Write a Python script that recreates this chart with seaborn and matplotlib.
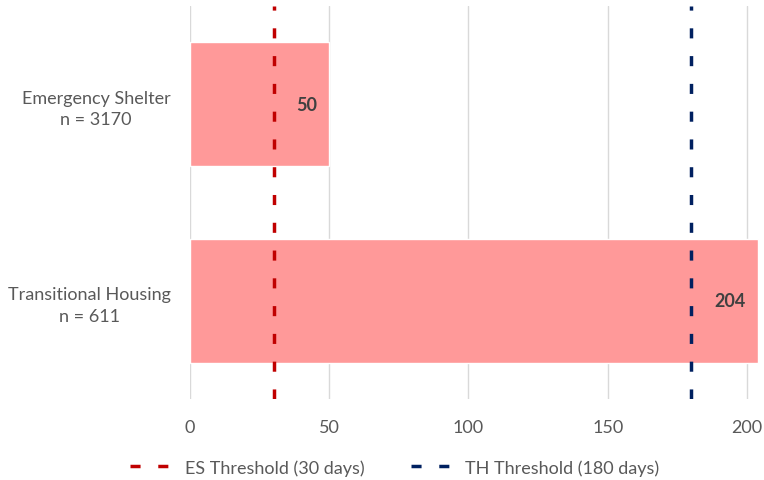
import pandas as pd
import matplotlib
matplotlib.use('Agg')
import matplotlib.pyplot as plt
import seaborn as sns

programs = ['Emergency Shelter\nn = 3170', 'Transitional Housing\nn = 611']
days = [50, 204]
thresholds = [30, 180]
threshold_labels = ['ES Threshold (30 days)', 'TH Threshold (180 days)']
threshold_colors = ['#C00000', '#002060']

df = pd.DataFrame({'program': programs, 'days': days})

sns.set_style('white')
plt.rcParams['font.family'] = ['Lato', 'DejaVu Sans']

fig = plt.figure(figsize=(7.64, 4.81), dpi=100)
ax = fig.add_axes([0.2487, 0.168, 0.7454, 0.818])
sns.barplot(data=df, x='days', y='program', orient='h', color='#FF9999',
            saturation=1, width=0.63, ax=ax)

ax.set_xlim(0, 204.5)
ax.set_ylim(1.5, -0.5)
ax.set_xticks([0, 50, 100, 150, 200])
ax.grid(axis='x', color='#D9D9D9', lw=1)
ax.set_axisbelow(True)
for s in ax.spines.values():
    s.set_visible(False)

handles = []
for t, lab, c in zip(thresholds, threshold_labels, threshold_colors):
    h = ax.axvline(t, color=c, lw=2.5, dashes=(2.9, 5.1), label=lab)
    handles.append(h)

#value labels inside the bar end
for i, v in enumerate(days):
    ax.text(v - 4.5, i, str(v), ha='right', va='center', fontsize=13,
            fontweight='bold', color='#404040')

ax.set_xlabel('')
ax.set_ylabel('')
ax.tick_params(axis='x', length=0, pad=14, labelsize=13, labelcolor='#595959')
ax.tick_params(axis='y', length=0, pad=14, labelsize=13, labelcolor='#595959')
for lab in ax.get_yticklabels():
    lab.set_multialignment('center')
    lab.set_linespacing(1.45)

fig.legend(handles=handles, loc='lower center', bbox_to_anchor=(0.517, -0.025),
           ncol=2, frameon=False, fontsize=13, labelcolor='#595959',
           handlelength=2.4, columnspacing=2.6, handletextpad=0.6)

plt.savefig('out.png', dpi=100)
